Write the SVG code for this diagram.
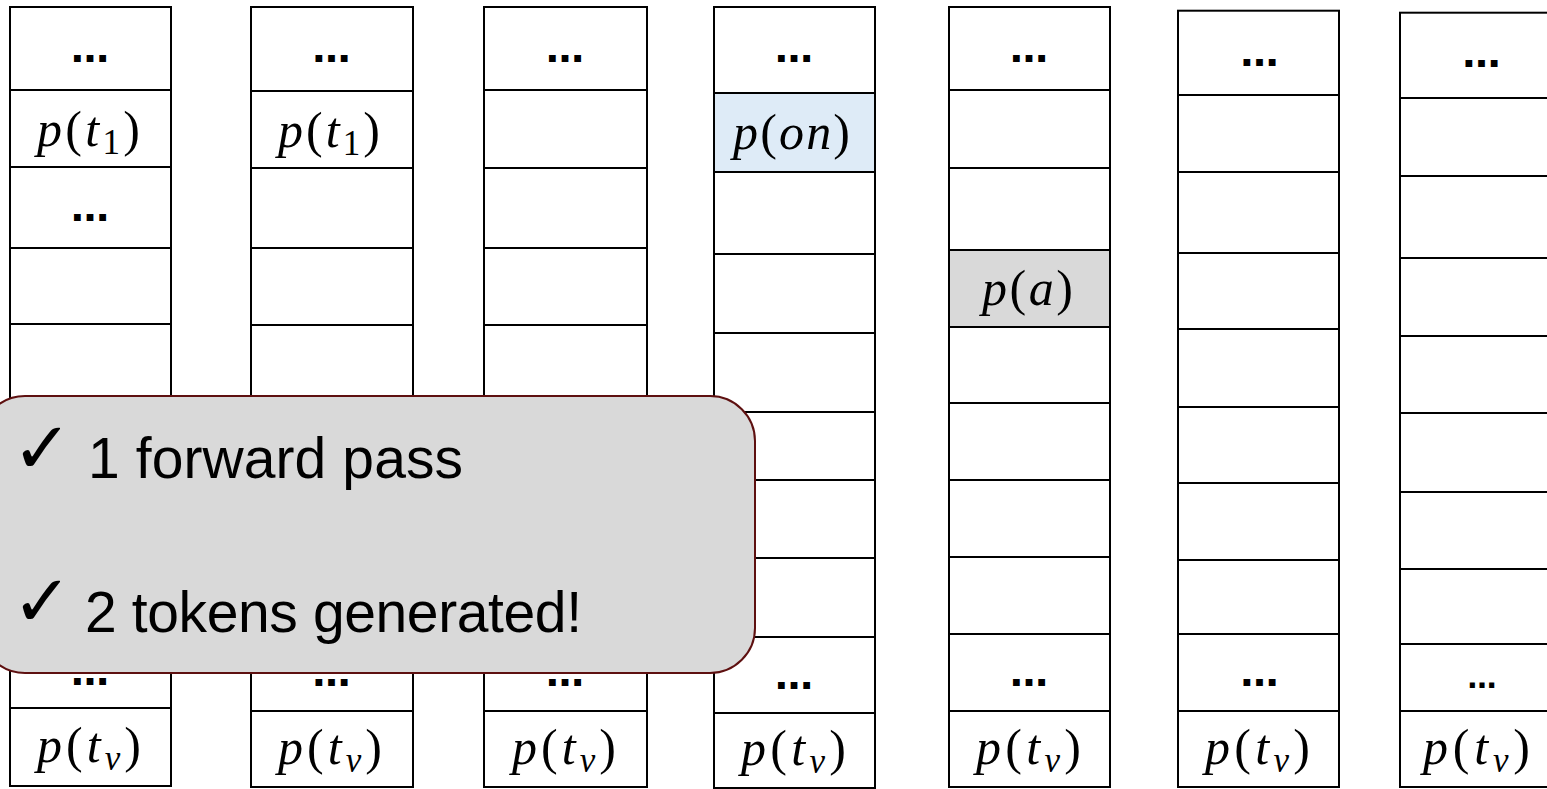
<svg xmlns="http://www.w3.org/2000/svg" width="1547" height="789" viewBox="0 0 1547 789">
  <style>
    .col { fill: #ffffff; stroke: #000000; stroke-width: 2; }
    .row { fill: none; stroke: #000000; stroke-width: 2; }
    .dots { font-family: "DejaVu Sans", sans-serif; font-weight: bold; font-size: 38px; fill: #000000; text-anchor: middle; letter-spacing: 1px; }
    .dots-sm { font-family: "DejaVu Sans", sans-serif; font-weight: bold; font-size: 29px; fill: #000000; text-anchor: middle; }
    .m { font-family: "Liberation Serif", "DejaVu Serif", serif; font-size: 50px; fill: #000000; }
    .i { font-style: italic; }
    .sub { font-size: 35px; }
    .callout { fill: #d9d9d9; stroke: #5e1010; stroke-width: 2; }
    .note { font-family: "Liberation Sans", Arial, sans-serif; font-size: 57px; fill: #000000; }
    .tick { font-family: "DejaVu Sans", sans-serif; font-size: 72px; fill: #000000; }
  </style>

  <!-- column 1 -->
  <g id="col1">
    <rect class="col" x="10" y="7" width="161" height="779"/>
    <path class="row" d="M10 90H171M10 167H171M10 248H171M10 324H171M10 403H171M10 480H171M10 557H171M10 634H171M10 708H171"/>
    <text class="dots" x="90.5" y="62">…</text>
    <text class="m" x="37" y="146" textLength="103" lengthAdjust="spacing"><tspan class="i">p</tspan>(<tspan class="i">t</tspan><tspan class="sub" dy="8">1</tspan><tspan dy="-8">)</tspan></text>
    <text class="dots" x="90.5" y="221">…</text>
    <text class="dots" x="90.5" y="685">…</text>
    <text class="m" x="37" y="762" textLength="104" lengthAdjust="spacing"><tspan class="i">p</tspan>(<tspan class="i">t</tspan><tspan class="i sub" dy="8">v</tspan><tspan dy="-8">)</tspan></text>
  </g>

  <!-- column 2 -->
  <g id="col2">
    <rect class="col" x="251" y="7" width="162" height="780"/>
    <path class="row" d="M251 91H413M251 168H413M251 248H413M251 325H413M251 403H413M251 480H413M251 557H413M251 634H413M251 711H413"/>
    <text class="dots" x="332" y="62">…</text>
    <text class="m" x="278" y="147" textLength="102" lengthAdjust="spacing"><tspan class="i">p</tspan>(<tspan class="i">t</tspan><tspan class="sub" dy="8">1</tspan><tspan dy="-8">)</tspan></text>
    <text class="dots" x="332" y="686">…</text>
    <text class="m" x="278" y="764" textLength="104" lengthAdjust="spacing"><tspan class="i">p</tspan>(<tspan class="i">t</tspan><tspan class="i sub" dy="8">v</tspan><tspan dy="-8">)</tspan></text>
  </g>

  <!-- column 3 -->
  <g id="col3">
    <rect class="col" x="484" y="7" width="163" height="780"/>
    <path class="row" d="M484 90H647M484 168H647M484 248H647M484 325H647M484 403H647M484 480H647M484 557H647M484 634H647M484 711H647"/>
    <text class="dots" x="565.5" y="62">…</text>
    <text class="dots" x="565.5" y="686">…</text>
    <text class="m" x="512" y="764" textLength="104" lengthAdjust="spacing"><tspan class="i">p</tspan>(<tspan class="i">t</tspan><tspan class="i sub" dy="8">v</tspan><tspan dy="-8">)</tspan></text>
  </g>

  <!-- column 4 -->
  <g id="col4">
    <rect class="col" x="714" y="7" width="161" height="781"/>
    <rect x="715" y="94" width="159" height="77" fill="#deebf7"/>
    <path class="row" d="M714 93H875M714 172H875M714 254H875M714 333H875M714 412H875M714 480H875M714 558H875M714 637H875M714 713H875"/>
    <text class="dots" x="794.5" y="62">…</text>
    <text class="m" x="733" y="149" textLength="117" lengthAdjust="spacing"><tspan class="i">p</tspan>(<tspan class="i">on</tspan>)</text>
    <text class="dots" x="794.5" y="689">…</text>
    <text class="m" x="741" y="765" textLength="105" lengthAdjust="spacing"><tspan class="i">p</tspan>(<tspan class="i">t</tspan><tspan class="i sub" dy="8">v</tspan><tspan dy="-8">)</tspan></text>
  </g>

  <!-- column 5 -->
  <g id="col5">
    <rect class="col" x="949" y="7" width="161" height="780"/>
    <rect x="950" y="251" width="159" height="75" fill="#d9d9d9"/>
    <path class="row" d="M949 90H1110M949 168H1110M949 250H1110M949 327H1110M949 403H1110M949 480H1110M949 557H1110M949 634H1110M949 711H1110"/>
    <text class="dots" x="1029.5" y="62">…</text>
    <text class="m" x="982" y="305" textLength="91" lengthAdjust="spacing"><tspan class="i">p</tspan>(<tspan class="i">a</tspan>)</text>
    <text class="dots" x="1029.5" y="686">…</text>
    <text class="m" x="976" y="764" textLength="105" lengthAdjust="spacing"><tspan class="i">p</tspan>(<tspan class="i">t</tspan><tspan class="i sub" dy="8">v</tspan><tspan dy="-8">)</tspan></text>
  </g>

  <!-- column 6 -->
  <g id="col6">
    <rect class="col" x="1178" y="10.7" width="161" height="776.3"/>
    <path class="row" d="M1178 95H1339M1178 172H1339M1178 253H1339M1178 329H1339M1178 407H1339M1178 483H1339M1178 560H1339M1178 634H1339M1178 711H1339"/>
    <text class="dots" x="1260" y="66">…</text>
    <text class="dots" x="1260" y="686">…</text>
    <text class="m" x="1205" y="764" textLength="105" lengthAdjust="spacing"><tspan class="i">p</tspan>(<tspan class="i">t</tspan><tspan class="i sub" dy="8">v</tspan><tspan dy="-8">)</tspan></text>
  </g>

  <!-- column 7 (runs past the right edge) -->
  <g id="col7">
    <rect class="col" x="1400" y="12.7" width="161" height="774.3"/>
    <path class="row" d="M1400 98H1561M1400 176H1561M1400 258H1561M1400 336H1561M1400 413H1561M1400 492H1561M1400 569H1561M1400 644H1561M1400 711H1561"/>
    <text class="dots" x="1482" y="67">…</text>
    <text class="dots-sm" x="1482" y="688">…</text>
    <text class="m" x="1423" y="764" textLength="107" lengthAdjust="spacing"><tspan class="i">p</tspan>(<tspan class="i">t</tspan><tspan class="i sub" dy="8">v</tspan><tspan dy="-8">)</tspan></text>
  </g>

  <!-- summary callout over the left columns -->
  <g id="summary">
    <rect class="callout" x="-20" y="396" width="775" height="277" rx="45" ry="45"/>
    <text class="tick" x="12" y="473">✓</text>
    <text class="note" x="88" y="478" textLength="375" lengthAdjust="spacing">1 forward pass</text>
    <text class="tick" x="12" y="626">✓</text>
    <text class="note" x="85" y="632" textLength="497" lengthAdjust="spacing">2 tokens generated!</text>
  </g>
</svg>
